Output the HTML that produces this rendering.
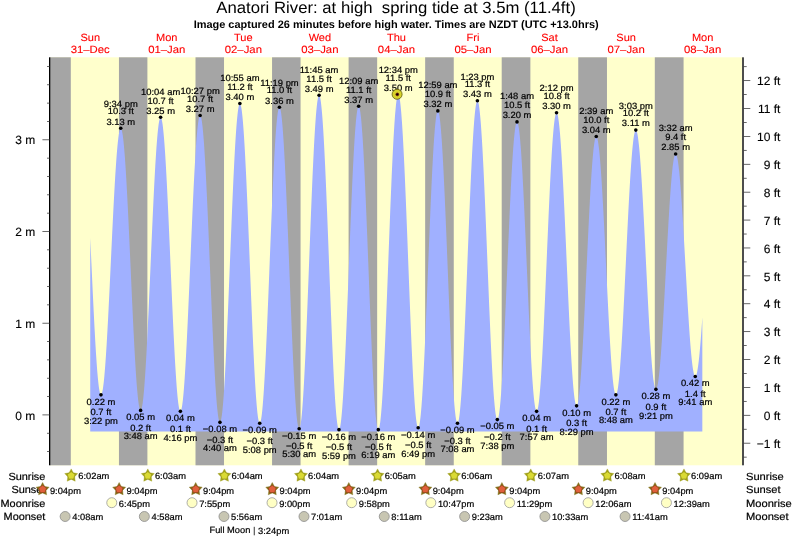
<!DOCTYPE html>
<html><head><meta charset="utf-8"><title>Anatori River tide times</title>
<style>html,body{margin:0;padding:0;background:#fff}svg{display:block;text-rendering:geometricPrecision;will-change:transform}</style></head><body>
<svg width="793" height="539" viewBox="0 0 793 539" font-family="'Liberation Sans', Arial, Helvetica, sans-serif">
<rect width="793" height="539" fill="#fff"/>
<rect x="50.0" y="57.3" width="692.0" height="408.0" fill="#ffffcc"/>
<rect x="50.00" y="57.3" width="20.80" height="408.0" fill="#a5a5a5"/>
<rect x="118.95" y="57.3" width="28.45" height="408.0" fill="#a5a5a5"/>
<rect x="195.50" y="57.3" width="28.51" height="408.0" fill="#a5a5a5"/>
<rect x="272.05" y="57.3" width="28.51" height="408.0" fill="#a5a5a5"/>
<rect x="348.60" y="57.3" width="28.56" height="408.0" fill="#a5a5a5"/>
<rect x="425.15" y="57.3" width="28.61" height="408.0" fill="#a5a5a5"/>
<rect x="501.70" y="57.3" width="28.67" height="408.0" fill="#a5a5a5"/>
<rect x="578.25" y="57.3" width="28.72" height="408.0" fill="#a5a5a5"/>
<rect x="654.80" y="57.3" width="28.77" height="408.0" fill="#a5a5a5"/>
<polygon points="90.23,431.5 90.23,238.03 90.62,246.20 91.00,254.43 91.38,262.70 91.77,270.97 92.15,279.21 92.53,287.38 92.91,295.46 93.30,303.41 93.68,311.20 94.06,318.80 94.44,326.18 94.83,333.32 95.21,340.17 95.59,346.72 95.97,352.94 96.36,358.81 96.74,364.30 97.12,369.40 97.50,374.07 97.89,378.31 98.27,382.09 98.65,385.40 99.03,388.23 99.42,390.57 99.80,392.41 100.18,393.74 100.56,394.55 100.95,394.85 101.33,394.63 101.71,393.93 102.09,392.74 102.48,391.06 102.86,388.91 103.24,386.28 103.62,383.20 104.01,379.67 104.39,375.70 104.77,371.30 105.15,366.51 105.54,361.32 105.92,355.77 106.30,349.87 106.69,343.64 107.07,337.11 107.45,330.31 107.83,323.24 108.22,315.95 108.60,308.46 108.98,300.80 109.36,292.99 109.75,285.06 110.13,277.05 110.51,268.98 110.89,260.89 111.28,252.79 111.66,244.73 112.04,236.73 112.42,228.83 112.81,221.04 113.19,213.40 113.57,205.95 113.95,198.69 114.34,191.67 114.72,184.91 115.10,178.43 115.48,172.25 115.87,166.41 116.25,160.92 116.63,155.80 117.01,151.07 117.40,146.75 117.78,142.85 118.16,139.39 118.54,136.38 118.93,133.83 119.31,131.76 119.69,130.17 120.07,129.06 120.46,128.43 120.84,128.31 121.22,128.69 121.60,129.58 121.99,130.99 122.37,132.90 122.75,135.30 123.14,138.20 123.52,141.58 123.90,145.42 124.28,149.72 124.67,154.46 125.05,159.61 125.43,165.16 125.81,171.10 126.20,177.39 126.58,184.02 126.96,190.96 127.34,198.19 127.73,205.68 128.11,213.40 128.49,221.33 128.87,229.43 129.26,237.67 129.64,246.04 130.02,254.48 130.40,262.99 130.79,271.51 131.17,280.03 131.55,288.51 131.93,296.91 132.32,305.22 132.70,313.40 133.08,321.41 133.46,329.24 133.85,336.85 134.23,344.21 134.61,351.29 134.99,358.08 135.38,364.54 135.76,370.66 136.14,376.40 136.52,381.76 136.91,386.70 137.29,391.22 137.67,395.29 138.05,398.90 138.44,402.03 138.82,404.69 139.20,406.84 139.59,408.50 139.97,409.65 140.35,410.28 140.73,410.40 141.12,409.99 141.50,409.06 141.88,407.60 142.26,405.62 142.65,403.13 143.03,400.14 143.41,396.65 143.79,392.68 144.18,388.25 144.56,383.37 144.94,378.05 145.32,372.32 145.71,366.21 146.09,359.72 146.47,352.88 146.85,345.72 147.24,338.27 147.62,330.55 148.00,322.59 148.38,314.41 148.77,306.05 149.15,297.54 149.53,288.91 149.91,280.19 150.30,271.41 150.68,262.60 151.06,253.79 151.44,245.02 151.83,236.32 152.21,227.72 152.59,219.25 152.97,210.95 153.36,202.83 153.74,194.93 154.12,187.28 154.50,179.91 154.89,172.85 155.27,166.11 155.65,159.72 156.04,153.71 156.42,148.10 156.80,142.91 157.18,138.15 157.57,133.85 157.95,130.02 158.33,126.68 158.71,123.82 159.10,121.48 159.48,119.65 159.86,118.34 160.24,117.55 160.63,117.30 161.01,117.58 161.39,118.41 161.77,119.77 162.16,121.66 162.54,124.09 162.92,127.03 163.30,130.48 163.69,134.42 164.07,138.84 164.45,143.72 164.83,149.05 165.22,154.81 165.60,160.97 165.98,167.51 166.36,174.41 166.75,181.64 167.13,189.18 167.51,196.99 167.89,205.05 168.28,213.33 168.66,221.80 169.04,230.43 169.42,239.18 169.81,248.03 170.19,256.93 170.57,265.86 170.95,274.79 171.34,283.68 171.72,292.49 172.10,301.20 172.49,309.78 172.87,318.19 173.25,326.40 173.63,334.38 174.02,342.10 174.40,349.53 174.78,356.65 175.16,363.43 175.55,369.84 175.93,375.86 176.31,381.47 176.69,386.65 177.08,391.38 177.46,395.64 177.84,399.41 178.22,402.68 178.61,405.45 178.99,407.69 179.37,409.40 179.75,410.58 180.14,411.21 180.52,411.31 180.90,410.85 181.28,409.85 181.67,408.31 182.05,406.22 182.43,403.61 182.81,400.48 183.20,396.83 183.58,392.70 183.96,388.08 184.34,383.00 184.73,377.47 185.11,371.53 185.49,365.18 185.87,358.45 186.26,351.37 186.64,343.96 187.02,336.26 187.40,328.28 187.79,320.06 188.17,311.64 188.55,303.03 188.94,294.28 189.32,285.41 189.70,276.46 190.08,267.46 190.47,258.45 190.85,249.45 191.23,240.51 191.61,231.65 192.00,222.91 192.38,214.32 192.76,205.91 193.14,197.72 193.53,189.77 193.91,182.09 194.29,174.71 194.67,167.67 195.06,160.98 195.44,154.67 195.82,148.76 196.20,143.28 196.59,138.24 196.97,133.67 197.35,129.58 197.73,125.99 198.12,122.91 198.50,120.35 198.88,118.32 199.26,116.83 199.65,115.88 200.03,115.48 200.41,115.64 200.79,116.35 201.18,117.63 201.56,119.46 201.94,121.84 202.32,124.77 202.71,128.22 203.09,132.18 203.47,136.65 203.85,141.61 204.24,147.03 204.62,152.90 205.00,159.20 205.39,165.90 205.77,172.97 206.15,180.40 206.53,188.16 206.92,196.21 207.30,204.53 207.68,213.08 208.06,221.84 208.45,230.78 208.83,239.85 209.21,249.03 209.59,258.28 209.98,267.57 210.36,276.87 210.74,286.13 211.12,295.34 211.51,304.44 211.89,313.42 212.27,322.23 212.65,330.85 213.04,339.24 213.42,347.37 213.80,355.21 214.18,362.74 214.57,369.92 214.95,376.73 215.33,383.14 215.71,389.13 216.10,394.69 216.48,399.78 216.86,404.39 217.24,408.50 217.63,412.10 218.01,415.17 218.39,417.71 218.77,419.70 219.16,421.14 219.54,422.01 219.92,422.33 220.30,422.07 220.69,421.24 221.07,419.83 221.45,417.85 221.84,415.31 222.22,412.21 222.60,408.57 222.98,404.41 223.37,399.72 223.75,394.55 224.13,388.89 224.51,382.78 224.90,376.23 225.28,369.27 225.66,361.92 226.04,354.21 226.43,346.17 226.81,337.83 227.19,329.22 227.57,320.36 227.96,311.30 228.34,302.06 228.72,292.68 229.10,283.19 229.49,273.63 229.87,264.03 230.25,254.43 230.63,244.85 231.02,235.34 231.40,225.94 231.78,216.66 232.16,207.56 232.55,198.65 232.93,189.98 233.31,181.58 233.69,173.47 234.08,165.68 234.46,158.25 234.84,151.20 235.22,144.56 235.61,138.34 235.99,132.58 236.37,127.29 236.75,122.50 237.14,118.21 237.52,114.45 237.90,111.23 238.29,108.57 238.67,106.46 239.05,104.92 239.43,103.95 239.82,103.57 240.20,103.76 240.58,104.54 240.96,105.91 241.35,107.85 241.73,110.37 242.11,113.44 242.49,117.07 242.88,121.24 243.26,125.92 243.64,131.11 244.02,136.79 244.41,142.93 244.79,149.52 245.17,156.52 245.55,163.92 245.94,171.68 246.32,179.78 246.70,188.18 247.08,196.86 247.47,205.79 247.85,214.93 248.23,224.24 248.61,233.70 249.00,243.27 249.38,252.91 249.76,262.59 250.14,272.28 250.53,281.93 250.91,291.51 251.29,300.99 251.67,310.33 252.06,319.50 252.44,328.47 252.82,337.19 253.20,345.64 253.59,353.79 253.97,361.61 254.35,369.07 254.74,376.14 255.12,382.80 255.50,389.02 255.88,394.77 256.27,400.05 256.65,404.82 257.03,409.07 257.41,412.79 257.80,415.96 258.18,418.57 258.56,420.61 258.94,422.07 259.33,422.95 259.71,423.24 260.09,422.95 260.47,422.07 260.86,420.61 261.24,418.57 261.62,415.96 262.00,412.80 262.39,409.08 262.77,404.83 263.15,400.07 263.53,394.80 263.92,389.05 264.30,382.84 264.68,376.20 265.06,369.14 265.45,361.70 265.83,353.90 266.21,345.77 266.59,337.34 266.98,328.64 267.36,319.71 267.74,310.58 268.12,301.27 268.51,291.84 268.89,282.30 269.27,272.70 269.65,263.08 270.04,253.46 270.42,243.89 270.80,234.39 271.19,225.01 271.57,215.78 271.95,206.73 272.33,197.90 272.72,189.32 273.10,181.02 273.48,173.04 273.86,165.39 274.25,158.12 274.63,151.24 275.01,144.79 275.39,138.79 275.78,133.25 276.16,128.20 276.54,123.67 276.92,119.66 277.31,116.18 277.69,113.27 278.07,110.91 278.45,109.13 278.84,107.93 279.22,107.31 279.60,107.28 279.98,107.85 280.37,109.01 280.75,110.76 281.13,113.09 281.51,116.00 281.90,119.47 282.28,123.50 282.66,128.06 283.04,133.14 283.43,138.72 283.81,144.78 284.19,151.29 284.57,158.24 284.96,165.60 285.34,173.34 285.72,181.43 286.11,189.84 286.49,198.54 286.87,207.50 287.25,216.68 287.64,226.06 288.02,235.59 288.40,245.24 288.78,254.97 289.17,264.75 289.55,274.55 289.93,284.32 290.31,294.03 290.70,303.64 291.08,313.12 291.46,322.43 291.84,331.54 292.23,340.42 292.61,349.02 292.99,357.33 293.37,365.30 293.76,372.91 294.14,380.14 294.52,386.94 294.90,393.31 295.29,399.20 295.67,404.62 296.05,409.52 296.43,413.90 296.82,417.74 297.20,421.02 297.58,423.73 297.96,425.87 298.35,427.42 298.73,428.37 299.11,428.74 299.49,428.50 299.88,427.65 300.26,426.21 300.64,424.17 301.02,421.54 301.41,418.33 301.79,414.55 302.17,410.22 302.56,405.34 302.94,399.95 303.32,394.06 303.70,387.69 304.09,380.86 304.47,373.60 304.85,365.93 305.23,357.89 305.62,349.49 306.00,340.78 306.38,331.79 306.76,322.54 307.15,313.07 307.53,303.41 307.91,293.61 308.29,283.69 308.68,273.69 309.06,263.65 309.44,253.60 309.82,243.58 310.21,233.63 310.59,223.79 310.97,214.08 311.35,204.55 311.74,195.22 312.12,186.14 312.50,177.33 312.88,168.84 313.27,160.68 313.65,152.89 314.03,145.49 314.41,138.52 314.80,132.00 315.18,125.95 315.56,120.39 315.94,115.35 316.33,110.84 316.71,106.89 317.09,103.49 317.47,100.67 317.86,98.44 318.24,96.80 318.62,95.76 319.01,95.33 319.39,95.50 319.77,96.29 320.15,97.68 320.54,99.67 320.92,102.26 321.30,105.43 321.68,109.18 322.07,113.48 322.45,118.34 322.83,123.71 323.21,129.60 323.60,135.97 323.98,142.80 324.36,150.07 324.74,157.75 325.13,165.81 325.51,174.23 325.89,182.97 326.27,191.99 326.66,201.28 327.04,210.79 327.42,220.49 327.80,230.34 328.19,240.31 328.57,250.36 328.95,260.45 329.33,270.56 329.72,280.63 330.10,290.64 330.48,300.54 330.86,310.30 331.25,319.89 331.63,329.27 332.01,338.41 332.39,347.27 332.78,355.82 333.16,364.03 333.54,371.86 333.92,379.30 334.31,386.31 334.69,392.87 335.07,398.95 335.46,404.54 335.84,409.60 336.22,414.13 336.60,418.10 336.99,421.51 337.37,424.33 337.75,426.56 338.13,428.20 338.52,429.23 338.90,429.65 339.28,429.46 339.66,428.66 340.05,427.27 340.43,425.29 340.81,422.71 341.19,419.56 341.58,415.84 341.96,411.58 342.34,406.77 342.72,401.45 343.11,395.63 343.49,389.33 343.87,382.58 344.25,375.40 344.64,367.82 345.02,359.87 345.40,351.58 345.78,342.97 346.17,334.09 346.55,324.95 346.93,315.61 347.31,306.08 347.70,296.42 348.08,286.65 348.46,276.80 348.84,266.93 349.23,257.06 349.61,247.23 349.99,237.48 350.37,227.84 350.76,218.35 351.14,209.05 351.52,199.96 351.91,191.13 352.29,182.59 352.67,174.37 353.05,166.49 353.44,159.00 353.82,151.91 354.20,145.25 354.58,139.06 354.97,133.34 355.35,128.13 355.73,123.43 356.11,119.28 356.50,115.68 356.88,112.65 357.26,110.21 357.64,108.35 358.03,107.08 358.41,106.42 358.79,106.36 359.17,106.90 359.56,108.04 359.94,109.78 360.32,112.11 360.70,115.03 361.09,118.51 361.47,122.55 361.85,127.14 362.23,132.25 362.62,137.86 363.00,143.97 363.38,150.53 363.76,157.53 364.15,164.95 364.53,172.75 364.91,180.91 365.29,189.39 365.68,198.16 366.06,207.20 366.44,216.46 366.82,225.91 367.21,235.52 367.59,245.26 367.97,255.07 368.36,264.94 368.74,274.82 369.12,284.67 369.50,294.45 369.89,304.14 370.27,313.70 370.65,323.08 371.03,332.26 371.42,341.20 371.80,349.87 372.18,358.23 372.56,366.25 372.95,373.91 373.33,381.17 373.71,388.01 374.09,394.40 374.48,400.31 374.86,405.74 375.24,410.65 375.62,415.03 376.01,418.86 376.39,422.12 376.77,424.81 377.15,426.92 377.54,428.43 377.92,429.34 378.30,429.66 378.68,429.36 379.07,428.46 379.45,426.95 379.83,424.84 380.21,422.14 380.60,418.86 380.98,415.01 381.36,410.61 381.74,405.66 382.13,400.19 382.51,394.22 382.89,387.77 383.27,380.86 383.66,373.52 384.04,365.78 384.42,357.66 384.81,349.19 385.19,340.40 385.57,331.33 385.95,322.01 386.34,312.47 386.72,302.75 387.10,292.88 387.48,282.89 387.87,272.83 388.25,262.74 388.63,252.64 389.01,242.57 389.40,232.57 389.78,222.68 390.16,212.94 390.54,203.37 390.93,194.01 391.31,184.91 391.69,176.08 392.07,167.56 392.46,159.39 392.84,151.59 393.22,144.20 393.60,137.23 393.99,130.71 394.37,124.67 394.75,119.13 395.13,114.11 395.52,109.63 395.90,105.70 396.28,102.34 396.66,99.56 397.05,97.37 397.43,95.77 397.81,94.79 398.19,94.40 398.58,94.63 398.96,95.46 399.34,96.90 399.72,98.93 400.11,101.55 400.49,104.75 400.87,108.52 401.26,112.84 401.64,117.70 402.02,123.08 402.40,128.97 402.79,135.33 403.17,142.15 403.55,149.41 403.93,157.07 404.32,165.10 404.70,173.49 405.08,182.19 405.46,191.18 405.85,200.43 406.23,209.90 406.61,219.55 406.99,229.35 407.38,239.27 407.76,249.27 408.14,259.31 408.52,269.36 408.91,279.37 409.29,289.32 409.67,299.17 410.05,308.88 410.44,318.42 410.82,327.75 411.20,336.83 411.58,345.65 411.97,354.15 412.35,362.32 412.73,370.11 413.11,377.52 413.50,384.50 413.88,391.03 414.26,397.09 414.64,402.65 415.03,407.70 415.41,412.22 415.79,416.19 416.17,419.59 416.56,422.42 416.94,424.66 417.32,426.31 417.71,427.36 418.09,427.81 418.47,427.65 418.85,426.90 419.24,425.57 419.62,423.65 420.00,421.15 420.38,418.09 420.77,414.47 421.15,410.32 421.53,405.63 421.91,400.44 422.30,394.76 422.68,388.61 423.06,382.01 423.44,374.99 423.83,367.58 424.21,359.81 424.59,351.69 424.97,343.27 425.36,334.57 425.74,325.63 426.12,316.48 426.50,307.15 426.89,297.68 427.27,288.11 427.65,278.47 428.03,268.79 428.42,259.11 428.80,249.48 429.18,239.91 429.56,230.46 429.95,221.15 430.33,212.02 430.71,203.11 431.09,194.44 431.48,186.05 431.86,177.98 432.24,170.24 432.62,162.88 433.01,155.91 433.39,149.36 433.77,143.27 434.16,137.64 434.54,132.51 434.92,127.88 435.30,123.79 435.69,120.23 436.07,117.24 436.45,114.81 436.83,112.96 437.22,111.69 437.60,111.01 437.98,110.92 438.36,111.42 438.75,112.51 439.13,114.17 439.51,116.41 439.89,119.21 440.28,122.56 440.66,126.46 441.04,130.89 441.42,135.83 441.81,141.26 442.19,147.16 442.57,153.51 442.95,160.29 443.34,167.47 443.72,175.02 444.10,182.92 444.48,191.14 444.87,199.64 445.25,208.39 445.63,217.36 446.01,226.52 446.40,235.83 446.78,245.26 447.16,254.77 447.54,264.32 447.93,273.89 448.31,283.43 448.69,292.91 449.07,302.29 449.46,311.54 449.84,320.63 450.22,329.51 450.61,338.16 450.99,346.54 451.37,354.62 451.75,362.38 452.14,369.77 452.52,376.78 452.90,383.38 453.28,389.55 453.67,395.25 454.05,400.47 454.43,405.20 454.81,409.40 455.20,413.07 455.58,416.19 455.96,418.75 456.34,420.74 456.73,422.16 457.11,422.99 457.49,423.24 457.87,422.91 458.26,421.98 458.64,420.48 459.02,418.40 459.40,415.75 459.79,412.55 460.17,408.80 460.55,404.51 460.93,399.71 461.32,394.40 461.70,388.62 462.08,382.37 462.46,375.69 462.85,368.60 463.23,361.12 463.61,353.27 463.99,345.10 464.38,336.62 464.76,327.88 465.14,318.89 465.53,309.70 465.91,300.33 466.29,290.83 466.67,281.22 467.06,271.54 467.44,261.82 467.82,252.11 468.20,242.43 468.59,232.83 468.97,223.33 469.35,213.97 469.73,204.78 470.12,195.81 470.50,187.07 470.88,178.61 471.26,170.45 471.65,162.62 472.03,155.15 472.41,148.08 472.79,141.41 473.18,135.19 473.56,129.42 473.94,124.14 474.32,119.36 474.71,115.09 475.09,111.36 475.47,108.18 475.85,105.56 476.24,103.50 476.62,102.02 477.00,101.13 477.38,100.81 477.77,101.08 478.15,101.93 478.53,103.35 478.91,105.35 479.30,107.90 479.68,111.01 480.06,114.66 480.44,118.84 480.83,123.54 481.21,128.73 481.59,134.39 481.98,140.52 482.36,147.08 482.74,154.05 483.12,161.41 483.51,169.12 483.89,177.17 484.27,185.52 484.65,194.14 485.04,203.00 485.42,212.06 485.80,221.31 486.18,230.69 486.57,240.18 486.95,249.74 487.33,259.35 487.71,268.95 488.10,278.52 488.48,288.03 488.86,297.43 489.24,306.70 489.63,315.80 490.01,324.70 490.39,333.37 490.77,341.77 491.16,349.87 491.54,357.64 491.92,365.07 492.30,372.11 492.69,378.74 493.07,384.95 493.45,390.70 493.83,395.97 494.22,400.76 494.60,405.03 494.98,408.77 495.36,411.98 495.75,414.63 496.13,416.73 496.51,418.25 496.89,419.20 497.28,419.57 497.66,419.38 498.04,418.62 498.43,417.32 498.81,415.47 499.19,413.07 499.57,410.15 499.96,406.71 500.34,402.75 500.72,398.31 501.10,393.39 501.49,388.01 501.87,382.19 502.25,375.96 502.63,369.34 503.02,362.34 503.40,355.01 503.78,347.36 504.16,339.42 504.55,331.23 504.93,322.82 505.31,314.20 505.69,305.43 506.08,296.52 506.46,287.52 506.84,278.46 507.22,269.37 507.61,260.28 507.99,251.24 508.37,242.26 508.75,233.39 509.14,224.66 509.52,216.11 509.90,207.75 510.28,199.63 510.67,191.78 511.05,184.22 511.43,176.99 511.81,170.10 512.20,163.59 512.58,157.48 512.96,151.79 513.34,146.55 513.73,141.77 514.11,137.47 514.49,133.67 514.88,130.38 515.26,127.62 515.64,125.38 516.02,123.69 516.41,122.55 516.79,121.97 517.17,121.93 517.55,122.44 517.94,123.50 518.32,125.09 518.70,127.21 519.08,129.85 519.47,133.01 519.85,136.67 520.23,140.81 520.61,145.43 521.00,150.50 521.38,156.01 521.76,161.94 522.14,168.25 522.53,174.94 522.91,181.97 523.29,189.31 523.67,196.95 524.06,204.85 524.44,212.98 524.82,221.31 525.20,229.81 525.59,238.45 525.97,247.20 526.35,256.02 526.73,264.87 527.12,273.74 527.50,282.58 527.88,291.35 528.26,300.04 528.65,308.60 529.03,317.00 529.41,325.21 529.79,333.20 530.18,340.95 530.56,348.41 530.94,355.57 531.33,362.39 531.71,368.86 532.09,374.94 532.47,380.61 532.86,385.85 533.24,390.65 533.62,394.98 534.00,398.84 534.39,402.19 534.77,405.04 535.15,407.36 535.53,409.16 535.92,410.42 536.30,411.15 536.68,411.33 537.06,410.97 537.45,410.06 537.83,408.62 538.21,406.65 538.59,404.15 538.98,401.14 539.36,397.62 539.74,393.60 540.12,389.11 540.51,384.16 540.89,378.76 541.27,372.94 541.65,366.71 542.04,360.11 542.42,353.15 542.80,345.86 543.18,338.26 543.57,330.39 543.95,322.26 544.33,313.92 544.71,305.39 545.10,296.71 545.48,287.89 545.86,278.99 546.24,270.02 546.63,261.02 547.01,252.03 547.39,243.07 547.78,234.18 548.16,225.39 548.54,216.74 548.92,208.25 549.31,199.95 549.69,191.88 550.07,184.07 550.45,176.54 550.84,169.32 551.22,162.44 551.60,155.91 551.98,149.78 552.37,144.05 552.75,138.75 553.13,133.90 553.51,129.51 553.90,125.61 554.28,122.20 554.66,119.30 555.04,116.92 555.43,115.06 555.81,113.74 556.19,112.96 556.57,112.72 556.96,113.01 557.34,113.83 557.72,115.18 558.10,117.04 558.49,119.41 558.87,122.28 559.25,125.65 559.63,129.50 560.02,133.81 560.40,138.58 560.78,143.78 561.16,149.39 561.55,155.40 561.93,161.78 562.31,168.52 562.69,175.58 563.08,182.94 563.46,190.57 563.84,198.45 564.23,206.56 564.61,214.85 564.99,223.30 565.37,231.88 565.76,240.55 566.14,249.30 566.52,258.08 566.90,266.87 567.29,275.62 567.67,284.32 568.05,292.93 568.43,301.42 568.82,309.76 569.20,317.91 569.58,325.86 569.96,333.56 570.35,341.00 570.73,348.15 571.11,354.97 571.49,361.45 571.88,367.57 572.26,373.29 572.64,378.61 573.02,383.49 573.41,387.93 573.79,391.91 574.17,395.41 574.55,398.42 574.94,400.93 575.32,402.93 575.70,404.41 576.08,405.37 576.47,405.81 576.85,405.73 577.23,405.14 577.61,404.05 578.00,402.47 578.38,400.40 578.76,397.84 579.14,394.81 579.53,391.32 579.91,387.38 580.29,383.01 580.68,378.22 581.06,373.03 581.44,367.46 581.82,361.54 582.21,355.27 582.59,348.69 582.97,341.82 583.35,334.69 583.74,327.32 584.12,319.74 584.50,311.98 584.88,304.07 585.27,296.04 585.65,287.91 586.03,279.72 586.41,271.50 586.80,263.27 587.18,255.08 587.56,246.95 587.94,238.90 588.33,230.98 588.71,223.21 589.09,215.61 589.47,208.23 589.86,201.08 590.24,194.19 590.62,187.59 591.00,181.30 591.39,175.34 591.77,169.75 592.15,164.53 592.53,159.71 592.92,155.31 593.30,151.33 593.68,147.81 594.06,144.75 594.45,142.16 594.83,140.05 595.21,138.43 595.59,137.30 595.98,136.68 596.36,136.55 596.74,136.92 597.13,137.77 597.51,139.10 597.89,140.90 598.27,143.17 598.66,145.91 599.04,149.09 599.42,152.71 599.80,156.75 600.19,161.20 600.57,166.05 600.95,171.27 601.33,176.84 601.72,182.75 602.10,188.96 602.48,195.47 602.86,202.24 603.25,209.24 603.63,216.46 604.01,223.87 604.39,231.43 604.78,239.12 605.16,246.91 605.54,254.76 605.92,262.67 606.31,270.58 606.69,278.47 607.07,286.32 607.45,294.08 607.84,301.75 608.22,309.27 608.60,316.63 608.98,323.81 609.37,330.76 609.75,337.47 610.13,343.91 610.51,350.06 610.90,355.89 611.28,361.38 611.66,366.51 612.04,371.26 612.43,375.62 612.81,379.57 613.19,383.08 613.58,386.16 613.96,388.79 614.34,390.95 614.72,392.64 615.11,393.86 615.49,394.60 615.87,394.85 616.25,394.62 616.64,393.91 617.02,392.72 617.40,391.06 617.78,388.93 618.17,386.34 618.55,383.30 618.93,379.82 619.31,375.92 619.70,371.61 620.08,366.89 620.46,361.80 620.84,356.35 621.23,350.56 621.61,344.44 621.99,338.03 622.37,331.34 622.76,324.41 623.14,317.25 623.52,309.89 623.90,302.36 624.29,294.68 624.67,286.88 625.05,279.00 625.43,271.06 625.82,263.08 626.20,255.11 626.58,247.16 626.96,239.27 627.35,231.46 627.73,223.76 628.11,216.20 628.49,208.82 628.88,201.62 629.26,194.65 629.64,187.93 630.03,181.47 630.41,175.31 630.79,169.47 631.17,163.97 631.56,158.82 631.94,154.05 632.32,149.67 632.70,145.71 633.09,142.16 633.47,139.06 633.85,136.40 634.23,134.21 634.62,132.47 635.00,131.21 635.38,130.43 635.76,130.13 636.15,130.30 636.53,130.93 636.91,132.03 637.29,133.58 637.68,135.58 638.06,138.03 638.44,140.91 638.82,144.22 639.21,147.94 639.59,152.06 639.97,156.57 640.35,161.44 640.74,166.67 641.12,172.22 641.50,178.10 641.88,184.26 642.27,190.69 642.65,197.37 643.03,204.28 643.41,211.38 643.80,218.65 644.18,226.07 644.56,233.62 644.95,241.25 645.33,248.95 645.71,256.69 646.09,264.44 646.48,272.18 646.86,279.87 647.24,287.48 647.62,295.00 648.01,302.40 648.39,309.64 648.77,316.70 649.15,323.55 649.54,330.18 649.92,336.56 650.30,342.66 650.68,348.47 651.07,353.96 651.45,359.11 651.83,363.91 652.21,368.33 652.60,372.37 652.98,376.00 653.36,379.22 653.74,382.01 654.13,384.36 654.51,386.27 654.89,387.72 655.27,388.72 655.66,389.25 656.04,389.33 656.42,388.96 656.80,388.15 657.19,386.92 657.57,385.25 657.95,383.17 658.33,380.67 658.72,377.76 659.10,374.46 659.48,370.78 659.86,366.73 660.25,362.33 660.63,357.59 661.01,352.53 661.40,347.18 661.78,341.54 662.16,335.64 662.54,329.51 662.93,323.16 663.31,316.61 663.69,309.91 664.07,303.06 664.46,296.09 664.84,289.03 665.22,281.91 665.60,274.75 665.99,267.58 666.37,260.42 666.75,253.31 667.13,246.26 667.52,239.31 667.90,232.47 668.28,225.79 668.66,219.27 669.05,212.95 669.43,206.84 669.81,200.98 670.19,195.38 670.58,190.06 670.96,185.04 671.34,180.35 671.72,176.00 672.11,172.00 672.49,168.36 672.87,165.12 673.25,162.27 673.64,159.82 674.02,157.79 674.40,156.18 674.78,155.01 675.17,154.26 675.55,153.95 675.93,154.07 676.31,154.61 676.70,155.56 677.08,156.93 677.46,158.70 677.85,160.87 678.23,163.43 678.61,166.38 678.99,169.69 679.38,173.37 679.76,177.39 680.14,181.74 680.52,186.40 680.91,191.36 681.29,196.59 681.67,202.09 682.05,207.82 682.44,213.76 682.82,219.90 683.20,226.21 683.58,232.66 683.97,239.24 684.35,245.92 684.73,252.66 685.11,259.46 685.50,266.27 685.88,273.09 686.26,279.87 686.64,286.60 687.03,293.25 687.41,299.79 687.79,306.20 688.17,312.46 688.56,318.54 688.94,324.42 689.32,330.08 689.70,335.50 690.09,340.65 690.47,345.52 690.85,350.09 691.23,354.34 691.62,358.26 692.00,361.82 692.38,365.03 692.76,367.86 693.15,370.30 693.53,372.35 693.91,374.00 694.30,375.24 694.68,376.07 695.06,376.48 695.44,376.48 695.83,376.09 696.21,375.33 696.59,374.19 696.97,372.67 697.36,370.79 697.74,368.55 698.12,365.96 698.50,363.02 698.89,359.74 699.27,356.15 699.65,352.23 700.03,348.03 700.42,343.53 700.80,338.77 701.18,333.75 701.56,328.49 701.95,323.02 702.33,317.34 702.33,431.5" fill="#a0b0ff"/>
<rect x="49" y="57.3" width="1.3" height="408.0" fill="#000"/>
<rect x="742.2" y="57.3" width="1.6" height="408.0" fill="#222"/>
<rect x="47.0" y="451.18" width="2.5" height="0.8" fill="#444"/>
<rect x="47.0" y="432.84" width="2.5" height="0.8" fill="#444"/>
<rect x="42.4" y="414.50" width="7.100000000000001" height="0.8" fill="#444"/>
<text transform="translate(35.20 419.50) scale(1.0 1)" font-size="12" text-anchor="end" fill="#000" stroke="#000" stroke-width="0.12" xml:space="preserve">0 m</text>
<rect x="47.0" y="396.16" width="2.5" height="0.8" fill="#444"/>
<rect x="47.0" y="377.82" width="2.5" height="0.8" fill="#444"/>
<rect x="47.0" y="359.48" width="2.5" height="0.8" fill="#444"/>
<rect x="47.0" y="341.14" width="2.5" height="0.8" fill="#444"/>
<rect x="42.4" y="322.80" width="7.100000000000001" height="0.8" fill="#444"/>
<text transform="translate(35.20 327.80) scale(1.0 1)" font-size="12" text-anchor="end" fill="#000" stroke="#000" stroke-width="0.12" xml:space="preserve">1 m</text>
<rect x="47.0" y="304.46" width="2.5" height="0.8" fill="#444"/>
<rect x="47.0" y="286.12" width="2.5" height="0.8" fill="#444"/>
<rect x="47.0" y="267.78" width="2.5" height="0.8" fill="#444"/>
<rect x="47.0" y="249.44" width="2.5" height="0.8" fill="#444"/>
<rect x="42.4" y="231.10" width="7.100000000000001" height="0.8" fill="#444"/>
<text transform="translate(35.20 236.10) scale(1.0 1)" font-size="12" text-anchor="end" fill="#000" stroke="#000" stroke-width="0.12" xml:space="preserve">2 m</text>
<rect x="47.0" y="212.76" width="2.5" height="0.8" fill="#444"/>
<rect x="47.0" y="194.42" width="2.5" height="0.8" fill="#444"/>
<rect x="47.0" y="176.08" width="2.5" height="0.8" fill="#444"/>
<rect x="47.0" y="157.74" width="2.5" height="0.8" fill="#444"/>
<rect x="42.4" y="139.40" width="7.100000000000001" height="0.8" fill="#444"/>
<text transform="translate(35.20 144.40) scale(1.0 1)" font-size="12" text-anchor="end" fill="#000" stroke="#000" stroke-width="0.12" xml:space="preserve">3 m</text>
<rect x="47.0" y="121.06" width="2.5" height="0.8" fill="#444"/>
<rect x="47.0" y="102.72" width="2.5" height="0.8" fill="#444"/>
<rect x="47.0" y="84.38" width="2.5" height="0.8" fill="#444"/>
<rect x="47.0" y="66.04" width="2.5" height="0.8" fill="#444"/>
<rect x="743" y="456.74" width="3.7000000000000455" height="0.8" fill="#444"/>
<rect x="743" y="442.79" width="7.2999999999999545" height="0.8" fill="#444"/>
<text transform="translate(780.40 447.89) scale(1.0 1)" font-size="12" text-anchor="end" fill="#000" stroke="#000" stroke-width="0.12" xml:space="preserve">−1 ft</text>
<rect x="743" y="428.85" width="3.7000000000000455" height="0.8" fill="#444"/>
<rect x="743" y="414.90" width="7.2999999999999545" height="0.8" fill="#444"/>
<text transform="translate(780.40 420.00) scale(1.0 1)" font-size="12" text-anchor="end" fill="#000" stroke="#000" stroke-width="0.12" xml:space="preserve">0 ft</text>
<rect x="743" y="400.96" width="3.7000000000000455" height="0.8" fill="#444"/>
<rect x="743" y="387.01" width="7.2999999999999545" height="0.8" fill="#444"/>
<text transform="translate(780.40 392.11) scale(1.0 1)" font-size="12" text-anchor="end" fill="#000" stroke="#000" stroke-width="0.12" xml:space="preserve">1 ft</text>
<rect x="743" y="373.07" width="3.7000000000000455" height="0.8" fill="#444"/>
<rect x="743" y="359.12" width="7.2999999999999545" height="0.8" fill="#444"/>
<text transform="translate(780.40 364.22) scale(1.0 1)" font-size="12" text-anchor="end" fill="#000" stroke="#000" stroke-width="0.12" xml:space="preserve">2 ft</text>
<rect x="743" y="345.18" width="3.7000000000000455" height="0.8" fill="#444"/>
<rect x="743" y="331.23" width="7.2999999999999545" height="0.8" fill="#444"/>
<text transform="translate(780.40 336.33) scale(1.0 1)" font-size="12" text-anchor="end" fill="#000" stroke="#000" stroke-width="0.12" xml:space="preserve">3 ft</text>
<rect x="743" y="317.29" width="3.7000000000000455" height="0.8" fill="#444"/>
<rect x="743" y="303.34" width="7.2999999999999545" height="0.8" fill="#444"/>
<text transform="translate(780.40 308.44) scale(1.0 1)" font-size="12" text-anchor="end" fill="#000" stroke="#000" stroke-width="0.12" xml:space="preserve">4 ft</text>
<rect x="743" y="289.40" width="3.7000000000000455" height="0.8" fill="#444"/>
<rect x="743" y="275.45" width="7.2999999999999545" height="0.8" fill="#444"/>
<text transform="translate(780.40 280.55) scale(1.0 1)" font-size="12" text-anchor="end" fill="#000" stroke="#000" stroke-width="0.12" xml:space="preserve">5 ft</text>
<rect x="743" y="261.50" width="3.7000000000000455" height="0.8" fill="#444"/>
<rect x="743" y="247.56" width="7.2999999999999545" height="0.8" fill="#444"/>
<text transform="translate(780.40 252.66) scale(1.0 1)" font-size="12" text-anchor="end" fill="#000" stroke="#000" stroke-width="0.12" xml:space="preserve">6 ft</text>
<rect x="743" y="233.62" width="3.7000000000000455" height="0.8" fill="#444"/>
<rect x="743" y="219.67" width="7.2999999999999545" height="0.8" fill="#444"/>
<text transform="translate(780.40 224.77) scale(1.0 1)" font-size="12" text-anchor="end" fill="#000" stroke="#000" stroke-width="0.12" xml:space="preserve">7 ft</text>
<rect x="743" y="205.72" width="3.7000000000000455" height="0.8" fill="#444"/>
<rect x="743" y="191.78" width="7.2999999999999545" height="0.8" fill="#444"/>
<text transform="translate(780.40 196.88) scale(1.0 1)" font-size="12" text-anchor="end" fill="#000" stroke="#000" stroke-width="0.12" xml:space="preserve">8 ft</text>
<rect x="743" y="177.84" width="3.7000000000000455" height="0.8" fill="#444"/>
<rect x="743" y="163.89" width="7.2999999999999545" height="0.8" fill="#444"/>
<text transform="translate(780.40 168.99) scale(1.0 1)" font-size="12" text-anchor="end" fill="#000" stroke="#000" stroke-width="0.12" xml:space="preserve">9 ft</text>
<rect x="743" y="149.95" width="3.7000000000000455" height="0.8" fill="#444"/>
<rect x="743" y="136.00" width="7.2999999999999545" height="0.8" fill="#444"/>
<text transform="translate(780.40 141.10) scale(1.0 1)" font-size="12" text-anchor="end" fill="#000" stroke="#000" stroke-width="0.12" xml:space="preserve">10 ft</text>
<rect x="743" y="122.05" width="3.7000000000000455" height="0.8" fill="#444"/>
<rect x="743" y="108.11" width="7.2999999999999545" height="0.8" fill="#444"/>
<text transform="translate(780.40 113.21) scale(1.0 1)" font-size="12" text-anchor="end" fill="#000" stroke="#000" stroke-width="0.12" xml:space="preserve">11 ft</text>
<rect x="743" y="94.16" width="3.7000000000000455" height="0.8" fill="#444"/>
<rect x="743" y="80.22" width="7.2999999999999545" height="0.8" fill="#444"/>
<text transform="translate(780.40 85.32) scale(1.0 1)" font-size="12" text-anchor="end" fill="#000" stroke="#000" stroke-width="0.12" xml:space="preserve">12 ft</text>
<rect x="743" y="66.28" width="3.7000000000000455" height="0.8" fill="#444"/>
<text transform="translate(396.05 13.40) scale(1.033 1)" font-size="16.2" text-anchor="middle" fill="#000" xml:space="preserve">Anatori River: at high  spring tide at 3.5m (11.4ft)</text>
<text transform="translate(396.15 28.40) scale(1.006 1)" font-size="10.9" text-anchor="middle" fill="#000" font-weight="bold" xml:space="preserve">Image captured 26 minutes before high water. Times are NZDT (UTC +13.0hrs)</text>
<text transform="translate(90.23 41.40) scale(1.05 1)" font-size="10.5" text-anchor="middle" fill="#ff0000" stroke="#ff0000" stroke-width="0.1" xml:space="preserve">Sun</text>
<text transform="translate(90.23 52.90) scale(1.08 1)" font-size="10.5" text-anchor="middle" fill="#ff0000" stroke="#ff0000" stroke-width="0.1" xml:space="preserve">31–Dec</text>
<text transform="translate(166.78 41.40) scale(1.05 1)" font-size="10.5" text-anchor="middle" fill="#ff0000" stroke="#ff0000" stroke-width="0.1" xml:space="preserve">Mon</text>
<text transform="translate(166.78 52.90) scale(1.08 1)" font-size="10.5" text-anchor="middle" fill="#ff0000" stroke="#ff0000" stroke-width="0.1" xml:space="preserve">01–Jan</text>
<text transform="translate(243.34 41.40) scale(1.05 1)" font-size="10.5" text-anchor="middle" fill="#ff0000" stroke="#ff0000" stroke-width="0.1" xml:space="preserve">Tue</text>
<text transform="translate(243.34 52.90) scale(1.08 1)" font-size="10.5" text-anchor="middle" fill="#ff0000" stroke="#ff0000" stroke-width="0.1" xml:space="preserve">02–Jan</text>
<text transform="translate(319.88 41.40) scale(1.05 1)" font-size="10.5" text-anchor="middle" fill="#ff0000" stroke="#ff0000" stroke-width="0.1" xml:space="preserve">Wed</text>
<text transform="translate(319.88 52.90) scale(1.08 1)" font-size="10.5" text-anchor="middle" fill="#ff0000" stroke="#ff0000" stroke-width="0.1" xml:space="preserve">03–Jan</text>
<text transform="translate(396.43 41.40) scale(1.05 1)" font-size="10.5" text-anchor="middle" fill="#ff0000" stroke="#ff0000" stroke-width="0.1" xml:space="preserve">Thu</text>
<text transform="translate(396.43 52.90) scale(1.08 1)" font-size="10.5" text-anchor="middle" fill="#ff0000" stroke="#ff0000" stroke-width="0.1" xml:space="preserve">04–Jan</text>
<text transform="translate(472.98 41.40) scale(1.05 1)" font-size="10.5" text-anchor="middle" fill="#ff0000" stroke="#ff0000" stroke-width="0.1" xml:space="preserve">Fri</text>
<text transform="translate(472.98 52.90) scale(1.08 1)" font-size="10.5" text-anchor="middle" fill="#ff0000" stroke="#ff0000" stroke-width="0.1" xml:space="preserve">05–Jan</text>
<text transform="translate(549.53 41.40) scale(1.05 1)" font-size="10.5" text-anchor="middle" fill="#ff0000" stroke="#ff0000" stroke-width="0.1" xml:space="preserve">Sat</text>
<text transform="translate(549.53 52.90) scale(1.08 1)" font-size="10.5" text-anchor="middle" fill="#ff0000" stroke="#ff0000" stroke-width="0.1" xml:space="preserve">06–Jan</text>
<text transform="translate(626.09 41.40) scale(1.05 1)" font-size="10.5" text-anchor="middle" fill="#ff0000" stroke="#ff0000" stroke-width="0.1" xml:space="preserve">Sun</text>
<text transform="translate(626.09 52.90) scale(1.08 1)" font-size="10.5" text-anchor="middle" fill="#ff0000" stroke="#ff0000" stroke-width="0.1" xml:space="preserve">07–Jan</text>
<text transform="translate(702.63 41.40) scale(1.05 1)" font-size="10.5" text-anchor="middle" fill="#ff0000" stroke="#ff0000" stroke-width="0.1" xml:space="preserve">Mon</text>
<text transform="translate(702.63 52.90) scale(1.08 1)" font-size="10.5" text-anchor="middle" fill="#ff0000" stroke="#ff0000" stroke-width="0.1" xml:space="preserve">08–Jan</text>
<text transform="translate(100.97 404.75) scale(1.045 1)" font-size="9.0" text-anchor="middle" fill="#000" stroke="#000" stroke-width="0.2" xml:space="preserve">0.22 m</text>
<text transform="translate(100.97 415.25) scale(1.045 1)" font-size="9.0" text-anchor="middle" fill="#000" stroke="#000" stroke-width="0.2" xml:space="preserve">0.7 ft</text>
<text transform="translate(100.97 424.35) scale(1.045 1)" font-size="9.0" text-anchor="middle" fill="#000" stroke="#000" stroke-width="0.2" xml:space="preserve">3:22 pm</text>
<circle cx="100.97" cy="394.85" r="1.8" fill="#000"/>
<text transform="translate(120.75 124.59) scale(1.045 1)" font-size="9.0" text-anchor="middle" fill="#000" stroke="#000" stroke-width="0.2" xml:space="preserve">3.13 m</text>
<text transform="translate(120.75 114.49) scale(1.045 1)" font-size="9.0" text-anchor="middle" fill="#000" stroke="#000" stroke-width="0.2" xml:space="preserve">10.3 ft</text>
<text transform="translate(120.75 106.99) scale(1.045 1)" font-size="9.0" text-anchor="middle" fill="#000" stroke="#000" stroke-width="0.2" xml:space="preserve">9:34 pm</text>
<circle cx="120.75" cy="128.29" r="1.8" fill="#000"/>
<text transform="translate(140.63 420.32) scale(1.045 1)" font-size="9.0" text-anchor="middle" fill="#000" stroke="#000" stroke-width="0.2" xml:space="preserve">0.05 m</text>
<text transform="translate(140.63 430.82) scale(1.045 1)" font-size="9.0" text-anchor="middle" fill="#000" stroke="#000" stroke-width="0.2" xml:space="preserve">0.2 ft</text>
<text transform="translate(140.63 438.82) scale(1.045 1)" font-size="9.0" text-anchor="middle" fill="#000" stroke="#000" stroke-width="0.2" xml:space="preserve">3:48 am</text>
<circle cx="140.63" cy="410.42" r="1.8" fill="#000"/>
<text transform="translate(160.62 113.60) scale(1.045 1)" font-size="9.0" text-anchor="middle" fill="#000" stroke="#000" stroke-width="0.2" xml:space="preserve">3.25 m</text>
<text transform="translate(160.62 103.50) scale(1.045 1)" font-size="9.0" text-anchor="middle" fill="#000" stroke="#000" stroke-width="0.2" xml:space="preserve">10.7 ft</text>
<text transform="translate(160.62 94.80) scale(1.045 1)" font-size="9.0" text-anchor="middle" fill="#000" stroke="#000" stroke-width="0.2" xml:space="preserve">10:04 am</text>
<circle cx="160.62" cy="117.30" r="1.8" fill="#000"/>
<text transform="translate(180.39 421.24) scale(1.045 1)" font-size="9.0" text-anchor="middle" fill="#000" stroke="#000" stroke-width="0.2" xml:space="preserve">0.04 m</text>
<text transform="translate(180.39 431.74) scale(1.045 1)" font-size="9.0" text-anchor="middle" fill="#000" stroke="#000" stroke-width="0.2" xml:space="preserve">0.1 ft</text>
<text transform="translate(180.39 440.84) scale(1.045 1)" font-size="9.0" text-anchor="middle" fill="#000" stroke="#000" stroke-width="0.2" xml:space="preserve">4:16 pm</text>
<circle cx="180.39" cy="411.34" r="1.8" fill="#000"/>
<text transform="translate(200.12 111.77) scale(1.045 1)" font-size="9.0" text-anchor="middle" fill="#000" stroke="#000" stroke-width="0.2" xml:space="preserve">3.27 m</text>
<text transform="translate(200.12 101.67) scale(1.045 1)" font-size="9.0" text-anchor="middle" fill="#000" stroke="#000" stroke-width="0.2" xml:space="preserve">10.7 ft</text>
<text transform="translate(200.12 94.17) scale(1.045 1)" font-size="9.0" text-anchor="middle" fill="#000" stroke="#000" stroke-width="0.2" xml:space="preserve">10:27 pm</text>
<circle cx="200.12" cy="115.47" r="1.8" fill="#000"/>
<text transform="translate(219.94 432.23) scale(1.045 1)" font-size="9.0" text-anchor="middle" fill="#000" stroke="#000" stroke-width="0.2" xml:space="preserve">−0.08 m</text>
<text transform="translate(219.94 442.73) scale(1.045 1)" font-size="9.0" text-anchor="middle" fill="#000" stroke="#000" stroke-width="0.2" xml:space="preserve">−0.3 ft</text>
<text transform="translate(219.94 450.73) scale(1.045 1)" font-size="9.0" text-anchor="middle" fill="#000" stroke="#000" stroke-width="0.2" xml:space="preserve">4:40 am</text>
<circle cx="219.94" cy="422.33" r="1.8" fill="#000"/>
<text transform="translate(239.88 99.86) scale(1.045 1)" font-size="9.0" text-anchor="middle" fill="#000" stroke="#000" stroke-width="0.2" xml:space="preserve">3.40 m</text>
<text transform="translate(239.88 89.76) scale(1.045 1)" font-size="9.0" text-anchor="middle" fill="#000" stroke="#000" stroke-width="0.2" xml:space="preserve">11.2 ft</text>
<text transform="translate(239.88 81.06) scale(1.045 1)" font-size="9.0" text-anchor="middle" fill="#000" stroke="#000" stroke-width="0.2" xml:space="preserve">10:55 am</text>
<circle cx="239.88" cy="103.56" r="1.8" fill="#000"/>
<text transform="translate(259.71 433.14) scale(1.045 1)" font-size="9.0" text-anchor="middle" fill="#000" stroke="#000" stroke-width="0.2" xml:space="preserve">−0.09 m</text>
<text transform="translate(259.71 443.64) scale(1.045 1)" font-size="9.0" text-anchor="middle" fill="#000" stroke="#000" stroke-width="0.2" xml:space="preserve">−0.3 ft</text>
<text transform="translate(259.71 452.74) scale(1.045 1)" font-size="9.0" text-anchor="middle" fill="#000" stroke="#000" stroke-width="0.2" xml:space="preserve">5:08 pm</text>
<circle cx="259.71" cy="423.24" r="1.8" fill="#000"/>
<text transform="translate(279.43 103.52) scale(1.045 1)" font-size="9.0" text-anchor="middle" fill="#000" stroke="#000" stroke-width="0.2" xml:space="preserve">3.36 m</text>
<text transform="translate(279.43 93.42) scale(1.045 1)" font-size="9.0" text-anchor="middle" fill="#000" stroke="#000" stroke-width="0.2" xml:space="preserve">11.0 ft</text>
<text transform="translate(279.43 85.92) scale(1.045 1)" font-size="9.0" text-anchor="middle" fill="#000" stroke="#000" stroke-width="0.2" xml:space="preserve">11:19 pm</text>
<circle cx="279.43" cy="107.22" r="1.8" fill="#000"/>
<text transform="translate(299.15 438.64) scale(1.045 1)" font-size="9.0" text-anchor="middle" fill="#000" stroke="#000" stroke-width="0.2" xml:space="preserve">−0.15 m</text>
<text transform="translate(299.15 449.14) scale(1.045 1)" font-size="9.0" text-anchor="middle" fill="#000" stroke="#000" stroke-width="0.2" xml:space="preserve">−0.5 ft</text>
<text transform="translate(299.15 457.14) scale(1.045 1)" font-size="9.0" text-anchor="middle" fill="#000" stroke="#000" stroke-width="0.2" xml:space="preserve">5:30 am</text>
<circle cx="299.15" cy="428.74" r="1.8" fill="#000"/>
<text transform="translate(319.09 91.62) scale(1.045 1)" font-size="9.0" text-anchor="middle" fill="#000" stroke="#000" stroke-width="0.2" xml:space="preserve">3.49 m</text>
<text transform="translate(319.09 81.52) scale(1.045 1)" font-size="9.0" text-anchor="middle" fill="#000" stroke="#000" stroke-width="0.2" xml:space="preserve">11.5 ft</text>
<text transform="translate(319.09 72.82) scale(1.045 1)" font-size="9.0" text-anchor="middle" fill="#000" stroke="#000" stroke-width="0.2" xml:space="preserve">11:45 am</text>
<circle cx="319.09" cy="95.32" r="1.8" fill="#000"/>
<text transform="translate(338.97 439.56) scale(1.045 1)" font-size="9.0" text-anchor="middle" fill="#000" stroke="#000" stroke-width="0.2" xml:space="preserve">−0.16 m</text>
<text transform="translate(338.97 450.06) scale(1.045 1)" font-size="9.0" text-anchor="middle" fill="#000" stroke="#000" stroke-width="0.2" xml:space="preserve">−0.5 ft</text>
<text transform="translate(338.97 459.16) scale(1.045 1)" font-size="9.0" text-anchor="middle" fill="#000" stroke="#000" stroke-width="0.2" xml:space="preserve">5:59 pm</text>
<circle cx="338.97" cy="429.66" r="1.8" fill="#000"/>
<text transform="translate(358.64 102.61) scale(1.045 1)" font-size="9.0" text-anchor="middle" fill="#000" stroke="#000" stroke-width="0.2" xml:space="preserve">3.37 m</text>
<text transform="translate(358.64 92.51) scale(1.045 1)" font-size="9.0" text-anchor="middle" fill="#000" stroke="#000" stroke-width="0.2" xml:space="preserve">11.1 ft</text>
<text transform="translate(358.64 83.81) scale(1.045 1)" font-size="9.0" text-anchor="middle" fill="#000" stroke="#000" stroke-width="0.2" xml:space="preserve">12:09 am</text>
<circle cx="358.64" cy="106.31" r="1.8" fill="#000"/>
<text transform="translate(378.31 439.56) scale(1.045 1)" font-size="9.0" text-anchor="middle" fill="#000" stroke="#000" stroke-width="0.2" xml:space="preserve">−0.16 m</text>
<text transform="translate(378.31 450.06) scale(1.045 1)" font-size="9.0" text-anchor="middle" fill="#000" stroke="#000" stroke-width="0.2" xml:space="preserve">−0.5 ft</text>
<text transform="translate(378.31 458.06) scale(1.045 1)" font-size="9.0" text-anchor="middle" fill="#000" stroke="#000" stroke-width="0.2" xml:space="preserve">6:19 am</text>
<circle cx="378.31" cy="429.66" r="1.8" fill="#000"/>
<text transform="translate(398.24 90.70) scale(1.045 1)" font-size="9.0" text-anchor="middle" fill="#000" stroke="#000" stroke-width="0.2" xml:space="preserve">3.50 m</text>
<text transform="translate(398.24 80.60) scale(1.045 1)" font-size="9.0" text-anchor="middle" fill="#000" stroke="#000" stroke-width="0.2" xml:space="preserve">11.5 ft</text>
<text transform="translate(398.24 73.10) scale(1.045 1)" font-size="9.0" text-anchor="middle" fill="#000" stroke="#000" stroke-width="0.2" xml:space="preserve">12:34 pm</text>
<circle cx="397.1" cy="94.30" r="5.0" fill="#d6d22a" stroke="#5f5a0c" stroke-width="0.8"/>
<circle cx="397.3" cy="94.40" r="1.4" fill="#000" stroke="#7a1010" stroke-width="0.8"/>
<text transform="translate(418.18 437.72) scale(1.045 1)" font-size="9.0" text-anchor="middle" fill="#000" stroke="#000" stroke-width="0.2" xml:space="preserve">−0.14 m</text>
<text transform="translate(418.18 448.22) scale(1.045 1)" font-size="9.0" text-anchor="middle" fill="#000" stroke="#000" stroke-width="0.2" xml:space="preserve">−0.5 ft</text>
<text transform="translate(418.18 457.32) scale(1.045 1)" font-size="9.0" text-anchor="middle" fill="#000" stroke="#000" stroke-width="0.2" xml:space="preserve">6:49 pm</text>
<circle cx="418.18" cy="427.82" r="1.8" fill="#000"/>
<text transform="translate(437.85 107.19) scale(1.045 1)" font-size="9.0" text-anchor="middle" fill="#000" stroke="#000" stroke-width="0.2" xml:space="preserve">3.32 m</text>
<text transform="translate(437.85 97.09) scale(1.045 1)" font-size="9.0" text-anchor="middle" fill="#000" stroke="#000" stroke-width="0.2" xml:space="preserve">10.9 ft</text>
<text transform="translate(437.85 88.39) scale(1.045 1)" font-size="9.0" text-anchor="middle" fill="#000" stroke="#000" stroke-width="0.2" xml:space="preserve">12:59 am</text>
<circle cx="437.85" cy="110.89" r="1.8" fill="#000"/>
<text transform="translate(457.46 433.14) scale(1.045 1)" font-size="9.0" text-anchor="middle" fill="#000" stroke="#000" stroke-width="0.2" xml:space="preserve">−0.09 m</text>
<text transform="translate(457.46 443.64) scale(1.045 1)" font-size="9.0" text-anchor="middle" fill="#000" stroke="#000" stroke-width="0.2" xml:space="preserve">−0.3 ft</text>
<text transform="translate(457.46 451.64) scale(1.045 1)" font-size="9.0" text-anchor="middle" fill="#000" stroke="#000" stroke-width="0.2" xml:space="preserve">7:08 am</text>
<circle cx="457.46" cy="423.24" r="1.8" fill="#000"/>
<text transform="translate(477.40 97.11) scale(1.045 1)" font-size="9.0" text-anchor="middle" fill="#000" stroke="#000" stroke-width="0.2" xml:space="preserve">3.43 m</text>
<text transform="translate(477.40 87.01) scale(1.045 1)" font-size="9.0" text-anchor="middle" fill="#000" stroke="#000" stroke-width="0.2" xml:space="preserve">11.3 ft</text>
<text transform="translate(477.40 79.51) scale(1.045 1)" font-size="9.0" text-anchor="middle" fill="#000" stroke="#000" stroke-width="0.2" xml:space="preserve">1:23 pm</text>
<circle cx="477.40" cy="100.81" r="1.8" fill="#000"/>
<text transform="translate(497.33 429.48) scale(1.045 1)" font-size="9.0" text-anchor="middle" fill="#000" stroke="#000" stroke-width="0.2" xml:space="preserve">−0.05 m</text>
<text transform="translate(497.33 439.98) scale(1.045 1)" font-size="9.0" text-anchor="middle" fill="#000" stroke="#000" stroke-width="0.2" xml:space="preserve">−0.2 ft</text>
<text transform="translate(497.33 449.08) scale(1.045 1)" font-size="9.0" text-anchor="middle" fill="#000" stroke="#000" stroke-width="0.2" xml:space="preserve">7:38 pm</text>
<circle cx="497.33" cy="419.58" r="1.8" fill="#000"/>
<text transform="translate(517.00 118.18) scale(1.045 1)" font-size="9.0" text-anchor="middle" fill="#000" stroke="#000" stroke-width="0.2" xml:space="preserve">3.20 m</text>
<text transform="translate(517.00 108.08) scale(1.045 1)" font-size="9.0" text-anchor="middle" fill="#000" stroke="#000" stroke-width="0.2" xml:space="preserve">10.5 ft</text>
<text transform="translate(517.00 99.38) scale(1.045 1)" font-size="9.0" text-anchor="middle" fill="#000" stroke="#000" stroke-width="0.2" xml:space="preserve">1:48 am</text>
<circle cx="517.00" cy="121.88" r="1.8" fill="#000"/>
<text transform="translate(536.62 421.24) scale(1.045 1)" font-size="9.0" text-anchor="middle" fill="#000" stroke="#000" stroke-width="0.2" xml:space="preserve">0.04 m</text>
<text transform="translate(536.62 431.74) scale(1.045 1)" font-size="9.0" text-anchor="middle" fill="#000" stroke="#000" stroke-width="0.2" xml:space="preserve">0.1 ft</text>
<text transform="translate(536.62 439.74) scale(1.045 1)" font-size="9.0" text-anchor="middle" fill="#000" stroke="#000" stroke-width="0.2" xml:space="preserve">7:57 am</text>
<circle cx="536.62" cy="411.34" r="1.8" fill="#000"/>
<text transform="translate(556.55 109.02) scale(1.045 1)" font-size="9.0" text-anchor="middle" fill="#000" stroke="#000" stroke-width="0.2" xml:space="preserve">3.30 m</text>
<text transform="translate(556.55 98.92) scale(1.045 1)" font-size="9.0" text-anchor="middle" fill="#000" stroke="#000" stroke-width="0.2" xml:space="preserve">10.8 ft</text>
<text transform="translate(556.55 91.42) scale(1.045 1)" font-size="9.0" text-anchor="middle" fill="#000" stroke="#000" stroke-width="0.2" xml:space="preserve">2:12 pm</text>
<circle cx="556.55" cy="112.72" r="1.8" fill="#000"/>
<text transform="translate(576.59 415.74) scale(1.045 1)" font-size="9.0" text-anchor="middle" fill="#000" stroke="#000" stroke-width="0.2" xml:space="preserve">0.10 m</text>
<text transform="translate(576.59 426.24) scale(1.045 1)" font-size="9.0" text-anchor="middle" fill="#000" stroke="#000" stroke-width="0.2" xml:space="preserve">0.3 ft</text>
<text transform="translate(576.59 435.34) scale(1.045 1)" font-size="9.0" text-anchor="middle" fill="#000" stroke="#000" stroke-width="0.2" xml:space="preserve">8:29 pm</text>
<circle cx="576.59" cy="405.84" r="1.8" fill="#000"/>
<text transform="translate(596.26 132.84) scale(1.045 1)" font-size="9.0" text-anchor="middle" fill="#000" stroke="#000" stroke-width="0.2" xml:space="preserve">3.04 m</text>
<text transform="translate(596.26 122.74) scale(1.045 1)" font-size="9.0" text-anchor="middle" fill="#000" stroke="#000" stroke-width="0.2" xml:space="preserve">10.0 ft</text>
<text transform="translate(596.26 114.04) scale(1.045 1)" font-size="9.0" text-anchor="middle" fill="#000" stroke="#000" stroke-width="0.2" xml:space="preserve">2:39 am</text>
<circle cx="596.26" cy="136.54" r="1.8" fill="#000"/>
<text transform="translate(615.88 404.75) scale(1.045 1)" font-size="9.0" text-anchor="middle" fill="#000" stroke="#000" stroke-width="0.2" xml:space="preserve">0.22 m</text>
<text transform="translate(615.88 415.25) scale(1.045 1)" font-size="9.0" text-anchor="middle" fill="#000" stroke="#000" stroke-width="0.2" xml:space="preserve">0.7 ft</text>
<text transform="translate(615.88 423.25) scale(1.045 1)" font-size="9.0" text-anchor="middle" fill="#000" stroke="#000" stroke-width="0.2" xml:space="preserve">8:48 am</text>
<circle cx="615.88" cy="394.85" r="1.8" fill="#000"/>
<text transform="translate(635.81 126.42) scale(1.045 1)" font-size="9.0" text-anchor="middle" fill="#000" stroke="#000" stroke-width="0.2" xml:space="preserve">3.11 m</text>
<text transform="translate(635.81 116.32) scale(1.045 1)" font-size="9.0" text-anchor="middle" fill="#000" stroke="#000" stroke-width="0.2" xml:space="preserve">10.2 ft</text>
<text transform="translate(635.81 108.82) scale(1.045 1)" font-size="9.0" text-anchor="middle" fill="#000" stroke="#000" stroke-width="0.2" xml:space="preserve">3:03 pm</text>
<circle cx="635.81" cy="130.12" r="1.8" fill="#000"/>
<text transform="translate(655.91 399.25) scale(1.045 1)" font-size="9.0" text-anchor="middle" fill="#000" stroke="#000" stroke-width="0.2" xml:space="preserve">0.28 m</text>
<text transform="translate(655.91 409.75) scale(1.045 1)" font-size="9.0" text-anchor="middle" fill="#000" stroke="#000" stroke-width="0.2" xml:space="preserve">0.9 ft</text>
<text transform="translate(655.91 418.85) scale(1.045 1)" font-size="9.0" text-anchor="middle" fill="#000" stroke="#000" stroke-width="0.2" xml:space="preserve">9:21 pm</text>
<circle cx="655.91" cy="389.35" r="1.8" fill="#000"/>
<text transform="translate(675.63 150.24) scale(1.045 1)" font-size="9.0" text-anchor="middle" fill="#000" stroke="#000" stroke-width="0.2" xml:space="preserve">2.85 m</text>
<text transform="translate(675.63 140.14) scale(1.045 1)" font-size="9.0" text-anchor="middle" fill="#000" stroke="#000" stroke-width="0.2" xml:space="preserve">9.4 ft</text>
<text transform="translate(675.63 131.44) scale(1.045 1)" font-size="9.0" text-anchor="middle" fill="#000" stroke="#000" stroke-width="0.2" xml:space="preserve">3:32 am</text>
<circle cx="675.63" cy="153.94" r="1.8" fill="#000"/>
<text transform="translate(695.25 386.43) scale(1.045 1)" font-size="9.0" text-anchor="middle" fill="#000" stroke="#000" stroke-width="0.2" xml:space="preserve">0.42 m</text>
<text transform="translate(695.25 396.93) scale(1.045 1)" font-size="9.0" text-anchor="middle" fill="#000" stroke="#000" stroke-width="0.2" xml:space="preserve">1.4 ft</text>
<text transform="translate(695.25 404.93) scale(1.045 1)" font-size="9.0" text-anchor="middle" fill="#000" stroke="#000" stroke-width="0.2" xml:space="preserve">9:41 am</text>
<circle cx="695.25" cy="376.53" r="1.8" fill="#000"/>
<text transform="translate(45.40 479.70) scale(1.05 1)" font-size="10.4" text-anchor="end" fill="#000" stroke="#000" stroke-width="0.2" xml:space="preserve">Sunrise</text>
<text transform="translate(746.00 479.70) scale(1.07 1)" font-size="10.4" text-anchor="start" fill="#000" stroke="#000" stroke-width="0.2" xml:space="preserve">Sunrise</text>
<text transform="translate(45.40 493.20) scale(1.05 1)" font-size="10.4" text-anchor="end" fill="#000" stroke="#000" stroke-width="0.2" xml:space="preserve">Sunset</text>
<text transform="translate(746.00 493.20) scale(1.07 1)" font-size="10.4" text-anchor="start" fill="#000" stroke="#000" stroke-width="0.2" xml:space="preserve">Sunset</text>
<text transform="translate(45.40 506.90) scale(1.05 1)" font-size="10.4" text-anchor="end" fill="#000" stroke="#000" stroke-width="0.2" xml:space="preserve">Moonrise</text>
<text transform="translate(746.00 506.90) scale(1.07 1)" font-size="10.4" text-anchor="start" fill="#000" stroke="#000" stroke-width="0.2" xml:space="preserve">Moonrise</text>
<text transform="translate(45.40 520.20) scale(1.05 1)" font-size="10.4" text-anchor="end" fill="#000" stroke="#000" stroke-width="0.2" xml:space="preserve">Moonset</text>
<text transform="translate(746.00 520.20) scale(1.07 1)" font-size="10.4" text-anchor="start" fill="#000" stroke="#000" stroke-width="0.2" xml:space="preserve">Moonset</text>
<polygon points="71.20,468.90 73.32,472.79 77.67,473.60 74.63,476.81 75.20,481.20 71.20,479.30 67.21,481.20 67.78,476.81 64.74,473.60 69.09,472.79" fill="#a2a21c" stroke="#a2a21c" stroke-width="0.4" stroke-linejoin="miter"/>
<polygon points="71.20,471.70 75.01,474.46 73.55,478.94 68.85,478.94 67.40,474.46" fill="#dada34" stroke="#8c8c14" stroke-width="0.5"/>
<text transform="translate(78.30 479.40) scale(1.035 1)" font-size="9.0" text-anchor="start" fill="#000" stroke="#000" stroke-width="0.2" xml:space="preserve">6:02am</text>
<polygon points="147.81,468.90 149.92,472.79 154.27,473.60 151.23,476.81 151.80,481.20 147.81,479.30 143.81,481.20 144.38,476.81 141.34,473.60 145.69,472.79" fill="#a2a21c" stroke="#a2a21c" stroke-width="0.4" stroke-linejoin="miter"/>
<polygon points="147.81,471.70 151.61,474.46 150.16,478.94 145.46,478.94 144.00,474.46" fill="#dada34" stroke="#8c8c14" stroke-width="0.5"/>
<text transform="translate(154.91 479.40) scale(1.035 1)" font-size="9.0" text-anchor="start" fill="#000" stroke="#000" stroke-width="0.2" xml:space="preserve">6:03am</text>
<polygon points="224.41,468.90 226.53,472.79 230.88,473.60 227.83,476.81 228.41,481.20 224.41,479.30 220.41,481.20 220.99,476.81 217.94,473.60 222.29,472.79" fill="#a2a21c" stroke="#a2a21c" stroke-width="0.4" stroke-linejoin="miter"/>
<polygon points="224.41,471.70 228.21,474.46 226.76,478.94 222.06,478.94 220.61,474.46" fill="#dada34" stroke="#8c8c14" stroke-width="0.5"/>
<text transform="translate(231.51 479.40) scale(1.035 1)" font-size="9.0" text-anchor="start" fill="#000" stroke="#000" stroke-width="0.2" xml:space="preserve">6:04am</text>
<polygon points="300.96,468.90 303.08,472.79 307.43,473.60 304.38,476.81 304.96,481.20 300.96,479.30 296.96,481.20 297.54,476.81 294.49,473.60 298.84,472.79" fill="#a2a21c" stroke="#a2a21c" stroke-width="0.4" stroke-linejoin="miter"/>
<polygon points="300.96,471.70 304.76,474.46 303.31,478.94 298.61,478.94 297.16,474.46" fill="#dada34" stroke="#8c8c14" stroke-width="0.5"/>
<text transform="translate(308.06 479.40) scale(1.035 1)" font-size="9.0" text-anchor="start" fill="#000" stroke="#000" stroke-width="0.2" xml:space="preserve">6:04am</text>
<polygon points="377.56,468.90 379.68,472.79 384.03,473.60 380.99,476.81 381.56,481.20 377.56,479.30 373.57,481.20 374.14,476.81 371.10,473.60 375.45,472.79" fill="#a2a21c" stroke="#a2a21c" stroke-width="0.4" stroke-linejoin="miter"/>
<polygon points="377.56,471.70 381.37,474.46 379.91,478.94 375.21,478.94 373.76,474.46" fill="#dada34" stroke="#8c8c14" stroke-width="0.5"/>
<text transform="translate(384.66 479.40) scale(1.035 1)" font-size="9.0" text-anchor="start" fill="#000" stroke="#000" stroke-width="0.2" xml:space="preserve">6:05am</text>
<polygon points="454.17,468.90 456.28,472.79 460.63,473.60 457.59,476.81 458.16,481.20 454.17,479.30 450.17,481.20 450.74,476.81 447.70,473.60 452.05,472.79" fill="#a2a21c" stroke="#a2a21c" stroke-width="0.4" stroke-linejoin="miter"/>
<polygon points="454.17,471.70 457.97,474.46 456.52,478.94 451.82,478.94 450.36,474.46" fill="#dada34" stroke="#8c8c14" stroke-width="0.5"/>
<text transform="translate(461.27 479.40) scale(1.035 1)" font-size="9.0" text-anchor="start" fill="#000" stroke="#000" stroke-width="0.2" xml:space="preserve">6:06am</text>
<polygon points="530.77,468.90 532.89,472.79 537.24,473.60 534.19,476.81 534.77,481.20 530.77,479.30 526.77,481.20 527.35,476.81 524.30,473.60 528.65,472.79" fill="#a2a21c" stroke="#a2a21c" stroke-width="0.4" stroke-linejoin="miter"/>
<polygon points="530.77,471.70 534.57,474.46 533.12,478.94 528.42,478.94 526.97,474.46" fill="#dada34" stroke="#8c8c14" stroke-width="0.5"/>
<text transform="translate(537.87 479.40) scale(1.035 1)" font-size="9.0" text-anchor="start" fill="#000" stroke="#000" stroke-width="0.2" xml:space="preserve">6:07am</text>
<polygon points="607.37,468.90 609.49,472.79 613.84,473.60 610.80,476.81 611.37,481.20 607.37,479.30 603.38,481.20 603.95,476.81 600.91,473.60 605.26,472.79" fill="#a2a21c" stroke="#a2a21c" stroke-width="0.4" stroke-linejoin="miter"/>
<polygon points="607.37,471.70 611.18,474.46 609.72,478.94 605.02,478.94 603.57,474.46" fill="#dada34" stroke="#8c8c14" stroke-width="0.5"/>
<text transform="translate(614.47 479.40) scale(1.035 1)" font-size="9.0" text-anchor="start" fill="#000" stroke="#000" stroke-width="0.2" xml:space="preserve">6:08am</text>
<polygon points="683.98,468.90 686.09,472.79 690.44,473.60 687.40,476.81 687.97,481.20 683.98,479.30 679.98,481.20 680.55,476.81 677.51,473.60 681.86,472.79" fill="#a2a21c" stroke="#a2a21c" stroke-width="0.4" stroke-linejoin="miter"/>
<polygon points="683.98,471.70 687.78,474.46 686.33,478.94 681.62,478.94 680.17,474.46" fill="#dada34" stroke="#8c8c14" stroke-width="0.5"/>
<text transform="translate(691.08 479.40) scale(1.035 1)" font-size="9.0" text-anchor="start" fill="#000" stroke="#000" stroke-width="0.2" xml:space="preserve">6:09am</text>
<polygon points="42.60,482.50 44.72,486.39 49.07,487.20 46.03,490.41 46.60,494.80 42.60,492.90 38.61,494.80 39.18,490.41 36.14,487.20 40.49,486.39" fill="#84701a" stroke="#84701a" stroke-width="0.4" stroke-linejoin="miter"/>
<polygon points="42.60,485.30 46.41,488.06 44.96,492.54 40.25,492.54 38.80,488.06" fill="#e0603c" stroke="#8c3010" stroke-width="0.5"/>
<text transform="translate(49.90 493.50) scale(1.035 1)" font-size="9.0" text-anchor="start" fill="#000" stroke="#000" stroke-width="0.2" xml:space="preserve">9:04pm</text>
<polygon points="119.15,482.50 121.27,486.39 125.62,487.20 122.58,490.41 123.15,494.80 119.15,492.90 115.16,494.80 115.73,490.41 112.69,487.20 117.04,486.39" fill="#84701a" stroke="#84701a" stroke-width="0.4" stroke-linejoin="miter"/>
<polygon points="119.15,485.30 122.96,488.06 121.51,492.54 116.80,492.54 115.35,488.06" fill="#e0603c" stroke="#8c3010" stroke-width="0.5"/>
<text transform="translate(126.45 493.50) scale(1.035 1)" font-size="9.0" text-anchor="start" fill="#000" stroke="#000" stroke-width="0.2" xml:space="preserve">9:04pm</text>
<polygon points="195.70,482.50 197.82,486.39 202.17,487.20 199.13,490.41 199.70,494.80 195.70,492.90 191.71,494.80 192.28,490.41 189.24,487.20 193.59,486.39" fill="#84701a" stroke="#84701a" stroke-width="0.4" stroke-linejoin="miter"/>
<polygon points="195.70,485.30 199.51,488.06 198.06,492.54 193.35,492.54 191.90,488.06" fill="#e0603c" stroke="#8c3010" stroke-width="0.5"/>
<text transform="translate(203.00 493.50) scale(1.035 1)" font-size="9.0" text-anchor="start" fill="#000" stroke="#000" stroke-width="0.2" xml:space="preserve">9:04pm</text>
<polygon points="272.25,482.50 274.37,486.39 278.72,487.20 275.68,490.41 276.25,494.80 272.25,492.90 268.26,494.80 268.83,490.41 265.79,487.20 270.14,486.39" fill="#84701a" stroke="#84701a" stroke-width="0.4" stroke-linejoin="miter"/>
<polygon points="272.25,485.30 276.06,488.06 274.61,492.54 269.90,492.54 268.45,488.06" fill="#e0603c" stroke="#8c3010" stroke-width="0.5"/>
<text transform="translate(279.55 493.50) scale(1.035 1)" font-size="9.0" text-anchor="start" fill="#000" stroke="#000" stroke-width="0.2" xml:space="preserve">9:04pm</text>
<polygon points="348.80,482.50 350.92,486.39 355.27,487.20 352.23,490.41 352.80,494.80 348.80,492.90 344.81,494.80 345.38,490.41 342.34,487.20 346.69,486.39" fill="#84701a" stroke="#84701a" stroke-width="0.4" stroke-linejoin="miter"/>
<polygon points="348.80,485.30 352.61,488.06 351.16,492.54 346.45,492.54 345.00,488.06" fill="#e0603c" stroke="#8c3010" stroke-width="0.5"/>
<text transform="translate(356.10 493.50) scale(1.035 1)" font-size="9.0" text-anchor="start" fill="#000" stroke="#000" stroke-width="0.2" xml:space="preserve">9:04pm</text>
<polygon points="425.35,482.50 427.47,486.39 431.82,487.20 428.78,490.41 429.35,494.80 425.35,492.90 421.36,494.80 421.93,490.41 418.89,487.20 423.24,486.39" fill="#84701a" stroke="#84701a" stroke-width="0.4" stroke-linejoin="miter"/>
<polygon points="425.35,485.30 429.16,488.06 427.71,492.54 423.00,492.54 421.55,488.06" fill="#e0603c" stroke="#8c3010" stroke-width="0.5"/>
<text transform="translate(432.65 493.50) scale(1.035 1)" font-size="9.0" text-anchor="start" fill="#000" stroke="#000" stroke-width="0.2" xml:space="preserve">9:04pm</text>
<polygon points="501.90,482.50 504.02,486.39 508.37,487.20 505.33,490.41 505.90,494.80 501.90,492.90 497.91,494.80 498.48,490.41 495.44,487.20 499.79,486.39" fill="#84701a" stroke="#84701a" stroke-width="0.4" stroke-linejoin="miter"/>
<polygon points="501.90,485.30 505.71,488.06 504.26,492.54 499.55,492.54 498.10,488.06" fill="#e0603c" stroke="#8c3010" stroke-width="0.5"/>
<text transform="translate(509.20 493.50) scale(1.035 1)" font-size="9.0" text-anchor="start" fill="#000" stroke="#000" stroke-width="0.2" xml:space="preserve">9:04pm</text>
<polygon points="578.45,482.50 580.57,486.39 584.92,487.20 581.88,490.41 582.45,494.80 578.45,492.90 574.46,494.80 575.03,490.41 571.99,487.20 576.34,486.39" fill="#84701a" stroke="#84701a" stroke-width="0.4" stroke-linejoin="miter"/>
<polygon points="578.45,485.30 582.26,488.06 580.81,492.54 576.10,492.54 574.65,488.06" fill="#e0603c" stroke="#8c3010" stroke-width="0.5"/>
<text transform="translate(585.75 493.50) scale(1.035 1)" font-size="9.0" text-anchor="start" fill="#000" stroke="#000" stroke-width="0.2" xml:space="preserve">9:04pm</text>
<polygon points="655.00,482.50 657.12,486.39 661.47,487.20 658.43,490.41 659.00,494.80 655.00,492.90 651.01,494.80 651.58,490.41 648.54,487.20 652.89,486.39" fill="#84701a" stroke="#84701a" stroke-width="0.4" stroke-linejoin="miter"/>
<polygon points="655.00,485.30 658.81,488.06 657.36,492.54 652.65,492.54 651.20,488.06" fill="#e0603c" stroke="#8c3010" stroke-width="0.5"/>
<text transform="translate(662.30 493.50) scale(1.035 1)" font-size="9.0" text-anchor="start" fill="#000" stroke="#000" stroke-width="0.2" xml:space="preserve">9:04pm</text>
<circle cx="111.76" cy="502.7" r="5.0" fill="#ffffc4" stroke="#999" stroke-width="0.8"/>
<text transform="translate(118.86 507.20) scale(1.035 1)" font-size="9.0" text-anchor="start" fill="#000" stroke="#000" stroke-width="0.2" xml:space="preserve">6:45pm</text>
<circle cx="192.04" cy="502.7" r="5.0" fill="#ffffc4" stroke="#999" stroke-width="0.8"/>
<text transform="translate(199.14 507.20) scale(1.035 1)" font-size="9.0" text-anchor="start" fill="#000" stroke="#000" stroke-width="0.2" xml:space="preserve">7:55pm</text>
<circle cx="272.04" cy="502.7" r="5.0" fill="#ffffc4" stroke="#999" stroke-width="0.8"/>
<text transform="translate(279.14 507.20) scale(1.035 1)" font-size="9.0" text-anchor="start" fill="#000" stroke="#000" stroke-width="0.2" xml:space="preserve">9:00pm</text>
<circle cx="351.67" cy="502.7" r="5.0" fill="#ffffc4" stroke="#999" stroke-width="0.8"/>
<text transform="translate(358.77 507.20) scale(1.035 1)" font-size="9.0" text-anchor="start" fill="#000" stroke="#000" stroke-width="0.2" xml:space="preserve">9:58pm</text>
<circle cx="430.83" cy="502.7" r="5.0" fill="#ffffc4" stroke="#999" stroke-width="0.8"/>
<text transform="translate(437.93 507.20) scale(1.035 1)" font-size="9.0" text-anchor="start" fill="#000" stroke="#000" stroke-width="0.2" xml:space="preserve">10:47pm</text>
<circle cx="509.61" cy="502.7" r="5.0" fill="#ffffc4" stroke="#999" stroke-width="0.8"/>
<text transform="translate(516.71 507.20) scale(1.035 1)" font-size="9.0" text-anchor="start" fill="#000" stroke="#000" stroke-width="0.2" xml:space="preserve">11:29pm</text>
<circle cx="588.13" cy="502.7" r="5.0" fill="#ffffc4" stroke="#999" stroke-width="0.8"/>
<text transform="translate(595.23 506.60) scale(1.035 1)" font-size="9.0" text-anchor="start" fill="#000" stroke="#000" stroke-width="0.2" xml:space="preserve">12:06am</text>
<circle cx="666.43" cy="502.7" r="5.0" fill="#ffffc4" stroke="#999" stroke-width="0.8"/>
<text transform="translate(673.53 506.60) scale(1.035 1)" font-size="9.0" text-anchor="start" fill="#000" stroke="#000" stroke-width="0.2" xml:space="preserve">12:39am</text>
<circle cx="65.14" cy="516.5" r="5.0" fill="#c8c6b2" stroke="#8c8c8c" stroke-width="0.8"/>
<text transform="translate(72.24 519.90) scale(1.035 1)" font-size="9.0" text-anchor="start" fill="#000" stroke="#000" stroke-width="0.2" xml:space="preserve">4:08am</text>
<circle cx="144.35" cy="516.5" r="5.0" fill="#c8c6b2" stroke="#8c8c8c" stroke-width="0.8"/>
<text transform="translate(151.45 519.90) scale(1.035 1)" font-size="9.0" text-anchor="start" fill="#000" stroke="#000" stroke-width="0.2" xml:space="preserve">4:58am</text>
<circle cx="223.98" cy="516.5" r="5.0" fill="#c8c6b2" stroke="#8c8c8c" stroke-width="0.8"/>
<text transform="translate(231.08 519.90) scale(1.035 1)" font-size="9.0" text-anchor="start" fill="#000" stroke="#000" stroke-width="0.2" xml:space="preserve">5:56am</text>
<circle cx="303.99" cy="516.5" r="5.0" fill="#c8c6b2" stroke="#8c8c8c" stroke-width="0.8"/>
<text transform="translate(311.09 519.90) scale(1.035 1)" font-size="9.0" text-anchor="start" fill="#000" stroke="#000" stroke-width="0.2" xml:space="preserve">7:01am</text>
<circle cx="384.26" cy="516.5" r="5.0" fill="#c8c6b2" stroke="#8c8c8c" stroke-width="0.8"/>
<text transform="translate(391.36 519.90) scale(1.035 1)" font-size="9.0" text-anchor="start" fill="#000" stroke="#000" stroke-width="0.2" xml:space="preserve">8:11am</text>
<circle cx="464.64" cy="516.5" r="5.0" fill="#c8c6b2" stroke="#8c8c8c" stroke-width="0.8"/>
<text transform="translate(471.74 519.90) scale(1.035 1)" font-size="9.0" text-anchor="start" fill="#000" stroke="#000" stroke-width="0.2" xml:space="preserve">9:23am</text>
<circle cx="544.91" cy="516.5" r="5.0" fill="#c8c6b2" stroke="#8c8c8c" stroke-width="0.8"/>
<text transform="translate(552.01 519.90) scale(1.035 1)" font-size="9.0" text-anchor="start" fill="#000" stroke="#000" stroke-width="0.2" xml:space="preserve">10:33am</text>
<circle cx="625.07" cy="516.5" r="5.0" fill="#c8c6b2" stroke="#8c8c8c" stroke-width="0.8"/>
<text transform="translate(632.17 519.90) scale(1.035 1)" font-size="9.0" text-anchor="start" fill="#000" stroke="#000" stroke-width="0.2" xml:space="preserve">11:41am</text>
<text transform="translate(250.38 533.00) scale(1.035 1)" font-size="9.0" text-anchor="end" fill="#000" stroke="#000" stroke-width="0.2" xml:space="preserve">Full Moon</text>
<text transform="translate(258.08 533.90) scale(1.035 1)" font-size="9.0" text-anchor="start" fill="#000" stroke="#000" stroke-width="0.2" xml:space="preserve">3:24pm</text>
<rect x="253.78" y="526.8" width="0.9" height="8.5" fill="#222"/>
</svg>
</body></html>
